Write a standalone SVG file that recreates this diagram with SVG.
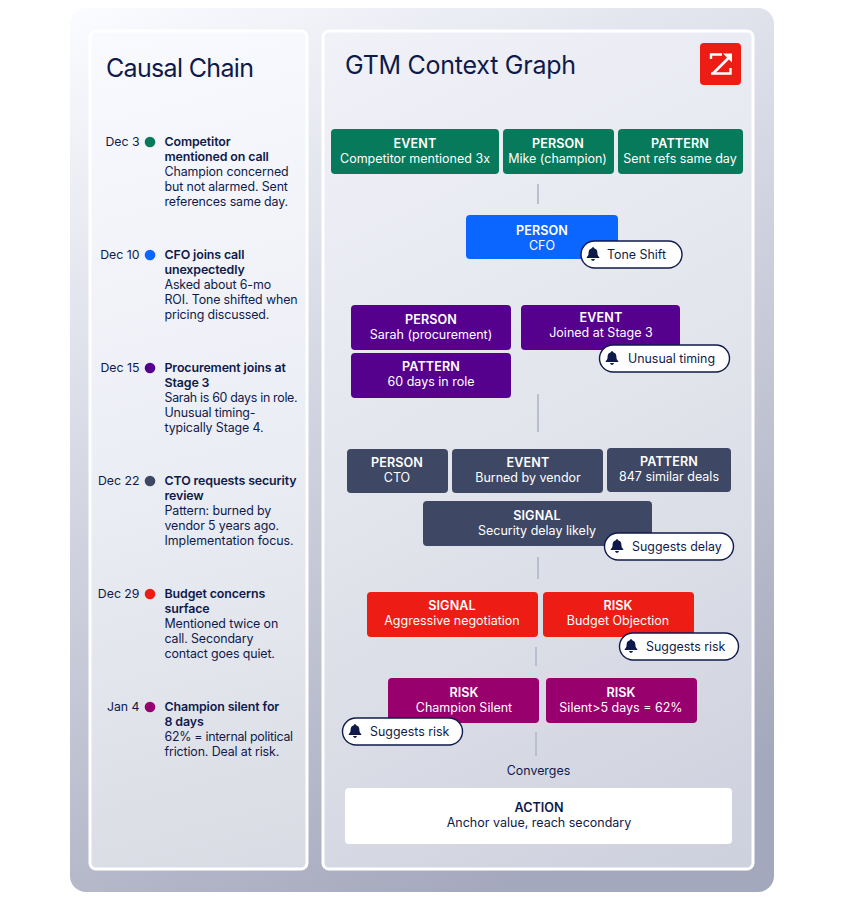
<svg xmlns="http://www.w3.org/2000/svg" width="845" height="897" viewBox="0 0 845 897">
<style>
text{font-family:"Inter","Liberation Sans",sans-serif;fill:#0f1a4a}
.t{font-size:12.4px;letter-spacing:-.12px}
.b{font-weight:600}
.d{text-anchor:end;font-size:12.300px}
.h{font-size:25px}
.n text{fill:#fff;text-anchor:middle;font-size:12.500px}
.n .l{font-weight:600;font-size:12.600px;letter-spacing:.1px}
.g{fill:#067a5b}.bl{fill:#0a66ff}.p{fill:#56018d}.s{fill:#3e4763}.r{fill:#ed1c14}.m{fill:#98006e}
.pill{fill:#fff;stroke:#0f1a4a;stroke-width:1.4}
.pt{font-size:12.400px}
.c{stroke:#b9bed0;stroke-width:2;fill:none}
</style>
<defs>
<linearGradient id="bg" gradientUnits="userSpaceOnUse" x1="70" y1="8" x2="500" y2="892"><stop offset="0" stop-color="#fbfcff"/><stop offset=".31" stop-color="#e0e2ec"/><stop offset=".81" stop-color="#b5b8c9"/><stop offset="1" stop-color="#a4a8bc"/></linearGradient>
<linearGradient id="pl" gradientUnits="userSpaceOnUse" x1="90" y1="31" x2="307" y2="869"><stop offset="0" stop-color="#f9fafe"/><stop offset=".5" stop-color="#eceef5"/><stop offset="1" stop-color="#d9dbe4"/></linearGradient>
<linearGradient id="pr" gradientUnits="userSpaceOnUse" x1="323" y1="31" x2="753" y2="869"><stop offset="0" stop-color="#f1f2f8"/><stop offset=".5" stop-color="#e2e4ec"/><stop offset="1" stop-color="#cdd0dd"/></linearGradient>
<path id="bell" d="M0-6.200c.7 0 1.100.5 1.100 1 2 .5 2.900 2.100 2.900 4 0 2 .5 2.900 1.700 4v.8h-11.400v-.8c1.200-1.100 1.700-2 1.700-4 0-1.900.9-3.500 2.900-4 0-.5.4-1 1.100-1zM-1.700 4.500h3.400c0 1-.7 1.700-1.700 1.700s-1.700-.7-1.700-1.700z" fill="#0f1a4a"/>
</defs>
<rect id="frame" x="70" y="8" width="704" height="884" rx="16" fill="url(#bg)"/>
<g id="causal-chain">
<rect x="90" y="31" width="217" height="838" rx="6" fill="url(#pl)" stroke="#fff" stroke-width="3"/>
<text class="h" x="106" y="77" textLength="148">Causal Chain</text>
<g id="c1"><text class="d" x="139.500" y="146">Dec 3</text><circle cx="150" cy="142" r="5.300" fill="#067a5b"/>
<text class="t" x="164.500" y="146"><tspan class="b">Competitor</tspan><tspan class="b" x="164.500" dy="15">mentioned on call</tspan><tspan x="164.500" dy="15">Champion concerned</tspan><tspan x="164.500" dy="15">but not alarmed. Sent</tspan><tspan x="164.500" dy="15">references same day.</tspan></text></g>
<g id="c2"><text class="d" x="139.500" y="259">Dec 10</text><circle cx="150" cy="255" r="5.300" fill="#0a66ff"/>
<text class="t" x="164.500" y="259"><tspan class="b">CFO joins call</tspan><tspan class="b" x="164.500" dy="15">unexpectedly</tspan><tspan x="164.500" dy="15">Asked about 6-mo</tspan><tspan x="164.500" dy="15">ROI. Tone shifted when</tspan><tspan x="164.500" dy="15">pricing discussed.</tspan></text></g>
<g id="c3"><text class="d" x="139.500" y="372">Dec 15</text><circle cx="150" cy="368" r="5.300" fill="#56018d"/>
<text class="t" x="164.500" y="372"><tspan class="b">Procurement joins at</tspan><tspan class="b" x="164.500" dy="15">Stage 3</tspan><tspan x="164.500" dy="15" textLength="133">Sarah is 60 days in role.</tspan><tspan x="164.500" dy="15">Unusual timing-</tspan><tspan x="164.500" dy="15">typically Stage 4.</tspan></text></g>
<g id="c4"><text class="d" x="139.500" y="485">Dec 22</text><circle cx="150" cy="481" r="5.300" fill="#3e4763"/>
<text class="t" x="164.500" y="485"><tspan class="b">CTO requests security</tspan><tspan class="b" x="164.500" dy="15">review</tspan><tspan x="164.500" dy="15">Pattern: burned by</tspan><tspan x="164.500" dy="15">vendor 5 years ago.</tspan><tspan x="164.500" dy="15" textLength="129">Implementation focus.</tspan></text></g>
<g id="c5"><text class="d" x="139.500" y="598">Dec 29</text><circle cx="150" cy="594" r="5.300" fill="#ed1c14"/>
<text class="t" x="164.500" y="598"><tspan class="b">Budget concerns</tspan><tspan class="b" x="164.500" dy="15">surface</tspan><tspan x="164.500" dy="15">Mentioned twice on</tspan><tspan x="164.500" dy="15">call. Secondary</tspan><tspan x="164.500" dy="15">contact goes quiet.</tspan></text></g>
<g id="c6"><text class="d" x="139.500" y="711">Jan 4</text><circle cx="150" cy="707" r="5.300" fill="#98006e"/>
<text class="t" x="164.500" y="711"><tspan class="b">Champion silent for</tspan><tspan class="b" x="164.500" dy="15">8 days</tspan><tspan x="164.500" dy="15" textLength="128.500">62% = internal political</tspan><tspan x="164.500" dy="15">friction. Deal at risk.</tspan></text></g>
</g>
<g id="context-graph">
<rect x="323" y="31" width="430" height="838" rx="6" fill="url(#pr)" stroke="#fff" stroke-width="3"/>
<text class="h" x="345" y="74" textLength="231">GTM Context Graph</text>
<g id="logo"><rect x="700" y="43" width="41" height="42" rx="4" fill="#ed1c14"/>
<path d="M711 59v-4.500h11M711 73.500h14.500M730.500 68v5.500h-5" fill="none" stroke="#fff" stroke-width="2.400"/>
<path d="M713 73.500L730 56.500" fill="none" stroke="#fff" stroke-width="2.600"/>
<path d="M723 53.500h9v9z" fill="#fff"/></g>
</g>
<g id="connectors">
<path class="c" d="M538 184v20M538 394v38M538 557v22M536 647v19M536 732v24"/>
</g>
<g class="n" id="n1"><rect class="g" x="331" y="129" width="168" height="45" rx="4"/><text class="l" x="415" y="148">EVENT</text><text x="415" y="163">Competitor mentioned 3x</text></g>
<g class="n" id="n2"><rect class="g" x="503" y="129" width="111" height="45" rx="4"/><text class="l" x="558" y="148">PERSON</text><text x="557.500" y="163">Mike (champion)</text></g>
<g class="n" id="n3"><rect class="g" x="618" y="129" width="125" height="45" rx="4"/><text class="l" x="680" y="148">PATTERN</text><text x="680" y="163">Sent refs same day</text></g>
<g class="n" id="n4"><rect class="bl" x="466" y="215" width="152" height="44" rx="4"/><text class="l" x="542" y="235">PERSON</text><text x="542" y="250">CFO</text></g>
<g class="n" id="n5"><rect class="p" x="351" y="305" width="160" height="45" rx="4"/><text class="l" x="431" y="324">PERSON</text><text x="431" y="339">Sarah (procurement)</text></g>
<g class="n" id="n6"><rect class="p" x="521" y="305" width="159" height="45" rx="4"/><text class="l" x="601" y="322">EVENT</text><text x="601" y="337">Joined at Stage 3</text></g>
<g class="n" id="n7"><rect class="p" x="351" y="353" width="160" height="45" rx="4"/><text class="l" x="431" y="371">PATTERN</text><text x="431" y="386">60 days in role</text></g>
<g class="n" id="n8"><rect class="s" x="347" y="449" width="101" height="44" rx="4"/><text class="l" x="397" y="467">PERSON</text><text x="397" y="482">CTO</text></g>
<g class="n" id="n9"><rect class="s" x="452" y="449" width="151" height="44" rx="4"/><text class="l" x="528" y="467">EVENT</text><text x="528" y="482">Burned by vendor</text></g>
<g class="n" id="n10"><rect class="s" x="607" y="448" width="124" height="44" rx="4"/><text class="l" x="669" y="466">PATTERN</text><text x="669" y="481">847 similar deals</text></g>
<g class="n" id="n11"><rect class="s" x="423" y="501" width="229" height="45" rx="4"/><text class="l" x="537" y="520">SIGNAL</text><text x="537" y="535">Security delay likely</text></g>
<g class="n" id="n12"><rect class="r" x="367" y="592" width="171" height="45" rx="4"/><text class="l" x="452" y="610">SIGNAL</text><text x="452" y="625">Aggressive negotiation</text></g>
<g class="n" id="n13"><rect class="r" x="543" y="592" width="151" height="45" rx="4"/><text class="l" x="618" y="610">RISK</text><text x="618" y="625">Budget Objection</text></g>
<g class="n" id="n14"><rect class="m" x="388" y="678" width="151" height="45" rx="4"/><text class="l" x="464" y="697">RISK</text><text x="464" y="712">Champion Silent</text></g>
<g class="n" id="n15"><rect class="m" x="546" y="678" width="151" height="45" rx="4"/><text class="l" x="621" y="697">RISK</text><text x="621" y="712">Silent&gt;5 days = 62%</text></g>
<g id="p1"><rect class="pill" x="581" y="241" width="101" height="27" rx="13.500"/><use href="#bell" transform="translate(593 254) scale(1.1)"/><text class="pt" x="607" y="258.500">Tone Shift</text></g>
<g id="p2"><rect class="pill" x="599.500" y="345" width="130" height="27" rx="13.500"/><use href="#bell" transform="translate(612 358) scale(1.1)"/><text class="pt" x="628" y="363">Unusual timing</text></g>
<g id="p3"><rect class="pill" x="604.500" y="533" width="129" height="27" rx="13.500"/><use href="#bell" transform="translate(617 546) scale(1.1)"/><text class="pt" x="632" y="550.500">Suggests delay</text></g>
<g id="p4"><rect class="pill" x="619.500" y="633" width="119" height="27" rx="13.500"/><use href="#bell" transform="translate(631 646) scale(1.1)"/><text class="pt" x="646" y="650.500">Suggests risk</text></g>
<g id="p5"><rect class="pill" x="342.500" y="718" width="120" height="27" rx="13.500"/><use href="#bell" transform="translate(355 731) scale(1.1)"/><text class="pt" x="370" y="735.500">Suggests risk</text></g>
<text id="converges" x="538.500" y="775" text-anchor="middle" font-size="12.400">Converges</text>
<g id="action"><rect x="345" y="788" width="387" height="56" rx="4" fill="#fff"/><text x="539" y="812" text-anchor="middle" font-size="12.600" font-weight="600">ACTION</text><text x="539" y="827" text-anchor="middle" font-size="12.500">Anchor value, reach secondary</text></g>
</svg>
